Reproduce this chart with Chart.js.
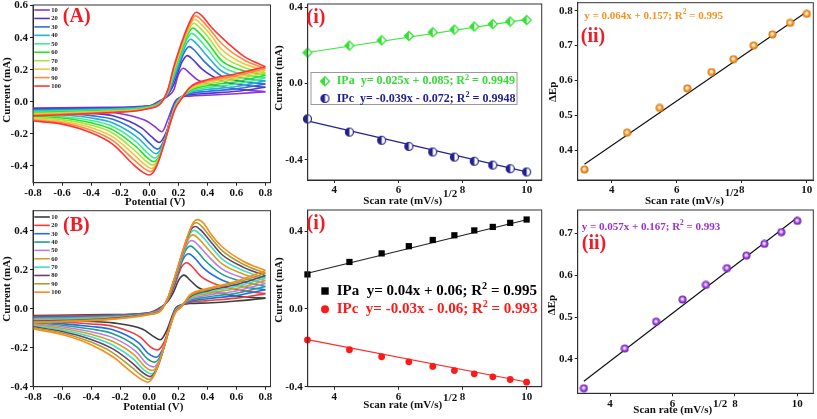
<!DOCTYPE html>
<html><head><meta charset="utf-8">
<script src="https://cdn.jsdelivr.net/npm/chart.js@4.4.0/dist/chart.umd.min.js"></script>
<style>
html,body{margin:0;padding:0;background:#fff;}
#wrap{position:relative;width:817px;height:419px;overflow:hidden;background:#fff;}
canvas{position:absolute;left:0;top:0;}
</style></head>
<body><div id="wrap">
<canvas id="cA" width="817" height="419"></canvas>
<canvas id="cAi" width="817" height="419"></canvas>
<canvas id="cAii" width="817" height="419"></canvas>
<canvas id="cB" width="817" height="419"></canvas>
<canvas id="cBi" width="817" height="419"></canvas>
<canvas id="cBii" width="817" height="419"></canvas>
</div>
<script>
// ---------------- DATA ----------------
const scanRates = [10,20,30,40,50,60,70,80,90,100];
const sqrtScanRate = [3.162,4.472,5.477,6.325,7.071,7.746,8.367,8.944,9.487,10.0];
const colorsA = ['#8a35d4','#5236cc','#2f6fd8','#25b0d8','#3bef8e','#22e322','#a3e63d','#f2c445','#ff8a3c','#ff3434'];
const colorsB = ['#3d3d3d','#ee3b3b','#1f6ee0','#1f9e8c','#b67fe6','#d4a021','#3de0c0','#6b3f6b','#a8a030','#ff8a1a'];
const cvTicksX = [-0.8,-0.6,-0.4,-0.2,0.0,0.2,0.4,0.6,0.8];
const cvTicksYA = [-0.4,-0.2,0.0,0.2,0.4,0.6];
const cvTicksYB = [-0.4,-0.2,0.0,0.2,0.4];
const srTicksX = [4,6,8,10];
const ipTicksY = [-0.4,0.0,0.4];
const dEpTicksYA = [0.4,0.5,0.6,0.7,0.8];
const dEpTicksYB = [0.4,0.5,0.6,0.7];

// ===== Panel A cyclic voltammograms (each row: one potential, columns = 10..100 mV/s) =====
// forward (anodic) scan
const cvA_fwdV = [-0.8,-0.3,0.0,0.08,0.13,0.17];
const cvA_fwdI = [
 [-0.040,-0.045,-0.050,-0.056,-0.062,-0.068,-0.073,-0.078,-0.083,-0.088],
 [-0.035,-0.039,-0.043,-0.047,-0.051,-0.055,-0.059,-0.063,-0.067,-0.070],
 [-0.025,-0.027,-0.029,-0.031,-0.033,-0.035,-0.037,-0.039,-0.041,-0.043],
 [0.010,0.006,0.003,0.001,-0.001,-0.003,-0.005,-0.007,-0.008,-0.010],
 [0.035,0.045,0.050,0.055,0.060,0.064,0.068,0.072,0.076,0.080],
 [0.075,0.110,0.135,0.155,0.170,0.182,0.193,0.203,0.212,0.220]];
const cvA_preAV = [0.201,0.227,0.240,0.250,0.258,0.265,0.272,0.278,0.284,0.290];
const cvA_preAI = [0.170,0.250,0.305,0.350,0.386,0.418,0.447,0.472,0.494,0.520];
const cvA_Epa   = [0.236,0.262,0.275,0.285,0.293,0.300,0.307,0.313,0.319,0.325];
const cvA_Ipa   = [0.209,0.288,0.344,0.390,0.427,0.460,0.490,0.515,0.537,0.559];
const cvA_postAV = [0.276,0.302,0.315,0.325,0.333,0.340,0.347,0.353,0.359,0.365];
const cvA_postAI = [0.180,0.262,0.318,0.363,0.400,0.433,0.463,0.488,0.511,0.535];
const cvA_post2AV = [0.336,0.362,0.375,0.385,0.393,0.400,0.407,0.413,0.419,0.425];
const cvA_post2AI = [0.135,0.205,0.255,0.300,0.338,0.372,0.403,0.430,0.450,0.468];
const cvA_tailV = [0.5,0.65];
const cvA_tailI = [
 [0.095,0.130,0.160,0.190,0.222,0.255,0.290,0.325,0.362,0.400],
 [0.075,0.103,0.125,0.148,0.170,0.193,0.215,0.238,0.262,0.285]];
const cvA_endI = [0.062,0.090,0.110,0.130,0.150,0.165,0.180,0.195,0.207,0.218];
// reverse (cathodic) scan
const cvA_revV = [0.6,0.4,0.28,0.22,0.18];
const cvA_revI = [
 [0.050,0.065,0.080,0.095,0.110,0.125,0.140,0.152,0.163,0.175],
 [0.040,0.052,0.064,0.076,0.088,0.100,0.110,0.120,0.129,0.137],
 [0.035,0.043,0.051,0.058,0.064,0.070,0.076,0.081,0.086,0.090],
 [0.028,0.030,0.030,0.029,0.028,0.026,0.024,0.021,0.018,0.015],
 [0.005,-0.005,-0.012,-0.018,-0.022,-0.026,-0.030,-0.034,-0.038,-0.042]];
const cvA_preCV = [0.133,0.115,0.103,0.093,0.085,0.077,0.069,0.061,0.053,0.045];
const cvA_preCI = [-0.100,-0.195,-0.240,-0.270,-0.300,-0.325,-0.348,-0.370,-0.392,-0.415];
const cvA_Epc   = [0.088,0.070,0.058,0.048,0.040,0.032,0.024,0.016,0.008,0.000];
const cvA_Ipc   = [-0.188,-0.254,-0.296,-0.325,-0.352,-0.375,-0.396,-0.417,-0.437,-0.458];
const cvA_postCV = [0.038,0.020,0.008,-0.002,-0.010,-0.018,-0.026,-0.034,-0.042,-0.050];
const cvA_postCI = [-0.155,-0.222,-0.264,-0.294,-0.322,-0.346,-0.368,-0.390,-0.412,-0.437];
const cvA_post2CV = [-0.032,-0.050,-0.062,-0.072,-0.080,-0.088,-0.096,-0.104,-0.112,-0.120];
const cvA_post2CI = [-0.115,-0.165,-0.200,-0.230,-0.258,-0.283,-0.308,-0.332,-0.357,-0.383];
const cvA_revTailV = [-0.25,-0.4,-0.6,-0.8];
const cvA_revTailI = [
 [-0.066,-0.088,-0.110,-0.133,-0.155,-0.176,-0.197,-0.220,-0.243,-0.266],
 [-0.057,-0.072,-0.087,-0.102,-0.117,-0.132,-0.147,-0.162,-0.178,-0.194],
 [-0.052,-0.062,-0.072,-0.082,-0.092,-0.102,-0.112,-0.122,-0.131,-0.140],
 [-0.050,-0.058,-0.066,-0.075,-0.083,-0.091,-0.099,-0.107,-0.114,-0.121]];

// ===== Panel B cyclic voltammograms =====
const cvB_fwdV = [-0.8,-0.3,0.0,0.08,0.13,0.17];
const cvB_fwdI = [
 [-0.035,-0.039,-0.043,-0.047,-0.051,-0.055,-0.059,-0.063,-0.067,-0.070],
 [-0.030,-0.033,-0.036,-0.039,-0.042,-0.045,-0.048,-0.051,-0.054,-0.057],
 [-0.020,-0.021,-0.022,-0.023,-0.024,-0.025,-0.026,-0.027,-0.028,-0.030],
 [0.008,0.005,0.002,0.000,-0.002,-0.004,-0.006,-0.008,-0.009,-0.010],
 [0.040,0.045,0.048,0.051,0.053,0.055,0.057,0.058,0.059,0.060],
 [0.090,0.110,0.120,0.127,0.133,0.138,0.142,0.145,0.148,0.150]];
const cvB_preAV = [0.205,0.223,0.237,0.249,0.259,0.268,0.276,0.283,0.290,0.298];
const cvB_preAI = [0.150,0.215,0.260,0.298,0.327,0.356,0.379,0.400,0.419,0.436];
const cvB_Epa   = [0.240,0.258,0.272,0.284,0.294,0.303,0.311,0.318,0.325,0.333];
const cvB_Ipa   = [0.173,0.237,0.283,0.322,0.351,0.380,0.403,0.423,0.442,0.458];
const cvB_postAV = [0.280,0.298,0.312,0.324,0.334,0.343,0.351,0.358,0.365,0.373];
const cvB_postAI = [0.148,0.215,0.262,0.300,0.330,0.358,0.382,0.402,0.421,0.440];
const cvB_post2AV = [0.340,0.358,0.372,0.384,0.394,0.403,0.411,0.418,0.425,0.433];
const cvB_post2AI = [0.108,0.165,0.210,0.248,0.280,0.308,0.332,0.350,0.365,0.375];
const cvB_tailV = [0.5,0.65];
const cvB_tailI = [
 [0.078,0.115,0.148,0.178,0.205,0.232,0.256,0.279,0.300,0.320],
 [0.062,0.092,0.115,0.138,0.158,0.178,0.196,0.213,0.228,0.243]];
const cvB_endI = [0.055,0.078,0.098,0.115,0.130,0.145,0.158,0.170,0.183,0.197];
const cvB_revV = [0.6,0.4,0.28,0.22,0.18];
const cvB_revI = [
 [0.040,0.055,0.068,0.080,0.092,0.104,0.115,0.125,0.134,0.142],
 [0.030,0.042,0.052,0.061,0.070,0.078,0.085,0.092,0.098,0.104],
 [0.027,0.033,0.038,0.044,0.049,0.054,0.058,0.062,0.066,0.072],
 [0.020,0.020,0.019,0.018,0.017,0.015,0.013,0.011,0.009,0.008],
 [0.002,-0.002,-0.005,-0.008,-0.010,-0.012,-0.014,-0.016,-0.018,-0.020]];
const cvB_preCV = [0.121,0.103,0.093,0.083,0.075,0.067,0.059,0.051,0.043,0.035];
const cvB_preCI = [-0.110,-0.170,-0.205,-0.232,-0.255,-0.275,-0.295,-0.310,-0.325,-0.340];
const cvB_Epc   = [0.076,0.058,0.048,0.038,0.030,0.022,0.014,0.006,-0.002,-0.010];
const cvB_Ipc   = [-0.159,-0.211,-0.249,-0.274,-0.298,-0.317,-0.334,-0.348,-0.363,-0.377];
const cvB_postCV = [0.026,0.008,-0.002,-0.012,-0.020,-0.028,-0.036,-0.044,-0.052,-0.060];
const cvB_postCI = [-0.140,-0.195,-0.232,-0.257,-0.280,-0.298,-0.314,-0.328,-0.343,-0.360];
const cvB_post2CV = [-0.044,-0.062,-0.072,-0.082,-0.090,-0.098,-0.106,-0.114,-0.122,-0.130];
const cvB_post2CI = [-0.105,-0.145,-0.175,-0.198,-0.220,-0.240,-0.260,-0.280,-0.300,-0.320];
const cvB_revTailV = [-0.25,-0.4,-0.6,-0.8];
const cvB_revTailI = [
 [-0.072,-0.090,-0.108,-0.128,-0.148,-0.168,-0.187,-0.206,-0.226,-0.246],
 [-0.065,-0.078,-0.091,-0.104,-0.118,-0.131,-0.144,-0.157,-0.171,-0.184],
 [-0.060,-0.068,-0.076,-0.084,-0.092,-0.100,-0.108,-0.116,-0.124,-0.132],
 [-0.057,-0.062,-0.067,-0.072,-0.077,-0.082,-0.087,-0.092,-0.097,-0.103]];

// ===== Peak currents vs sqrt(scan rate) =====
const IPa_A = [0.162,0.199,0.227,0.250,0.269,0.283,0.299,0.312,0.325,0.333];
const IPc_A = [-0.185,-0.254,-0.297,-0.329,-0.358,-0.385,-0.407,-0.427,-0.446,-0.463];
const fitX = [3.162,10.0];
const fitIPa_A = [0.163,0.336];
const fitIPc_A = [-0.195,-0.462];
const IPa_B = [0.177,0.241,0.285,0.322,0.354,0.378,0.403,0.421,0.442,0.459];
const IPc_B = [-0.160,-0.210,-0.246,-0.272,-0.296,-0.317,-0.334,-0.349,-0.363,-0.377];
const fitIPa_B = [0.183,0.458];
const fitIPc_B = [-0.158,-0.376];
// ===== Peak separation vs sqrt(scan rate) =====
const dEp_A = [0.344,0.450,0.521,0.577,0.624,0.661,0.700,0.732,0.765,0.791];
const fitdEp_A = [0.359,0.797];
const dEp_B = [0.330,0.425,0.489,0.542,0.577,0.617,0.647,0.675,0.703,0.730];
const fitdEp_B = [0.347,0.738];

// ---------------- HELPERS ----------------
const FONT = "'Liberation Serif','Times New Roman',serif";
const W = 817, H = 419, YW = 30, XH = 20;
const tickFont = {family: FONT, size: 11, weight: 'bold'};

function txt(ctx, s, x, y, size, color, align, rot){
  ctx.save(); ctx.font = `bold ${size}px ${FONT}`; ctx.fillStyle = color;
  ctx.textAlign = align || 'left'; ctx.textBaseline = 'middle';
  ctx.translate(x, y); if (rot) ctx.rotate(rot); ctx.fillText(s, 0, 0);
  const w = ctx.measureText(s).width; ctx.restore(); return w;
}
function rich(ctx, parts, x, y, size, color){
  let cx = x; ctx.save(); ctx.fillStyle = color; ctx.textBaseline = 'middle'; ctx.textAlign = 'left';
  parts.forEach((p, i) => {
    const sup = i % 2 === 1; const fs = sup ? size * 0.68 : size;
    ctx.font = `bold ${fs}px ${FONT}`;
    ctx.fillText(p, cx, sup ? y - size * 0.32 : y);
    cx += ctx.measureText(p).width;
  });
  ctx.restore();
}
function frame(chart){
  const a = chart.chartArea, ctx = chart.ctx;
  ctx.save(); ctx.strokeStyle = '#333'; ctx.lineWidth = 1;
  ctx.strokeRect(a.left, a.top, a.right - a.left, a.bottom - a.top); ctx.restore();
}
function cvLegend(ctx, colors, x0, y0, dy){
  colors.forEach((c, i) => {
    const y = y0 + dy * i;
    ctx.save(); ctx.strokeStyle = c; ctx.lineWidth = 1.6;
    ctx.beginPath(); ctx.moveTo(x0, y); ctx.lineTo(x0 + 15.5, y); ctx.stroke(); ctx.restore();
    txt(ctx, String(scanRates[i]), x0 + 17, y + 0.3, 6.5, '#222');
  });
}
function scanTitle(ctx, x, y, supY){
  const w = txt(ctx, 'Scan rate (mV/s)', x, y, 11, '#111');
  txt(ctx, '1/2', x + w + 1, supY, 11, '#111');
}
function halfDiamond(color, w){
  const s = Math.ceil(w + 3), c = document.createElement('canvas'); c.width = c.height = s;
  const g = c.getContext('2d'), m = s / 2, r = w / 2;
  const path = () => { g.beginPath(); g.moveTo(m, m - r); g.lineTo(m + r, m); g.lineTo(m, m + r); g.lineTo(m - r, m); g.closePath(); };
  path(); g.fillStyle = '#fff'; g.fill();
  g.save(); path(); g.clip(); g.fillStyle = color; g.fillRect(0, 0, m, s); g.restore();
  path(); g.strokeStyle = color; g.lineWidth = 1.3; g.stroke(); return c;
}
function halfCircle(color, d){
  const s = Math.ceil(d + 3), c = document.createElement('canvas'); c.width = c.height = s;
  const g = c.getContext('2d'), m = s / 2, r = d / 2;
  g.beginPath(); g.arc(m, m, r, 0, Math.PI * 2); g.fillStyle = '#fff'; g.fill();
  g.beginPath(); g.arc(m, m, r, Math.PI / 2, Math.PI * 1.5); g.closePath(); g.fillStyle = color; g.fill();
  g.beginPath(); g.arc(m, m, r, 0, Math.PI * 2); g.strokeStyle = color; g.lineWidth = 1.2; g.stroke(); return c;
}
function ball(stops, d){
  const s = Math.ceil(d + 1), c = document.createElement('canvas'); c.width = c.height = s;
  const g = c.getContext('2d'), m = s / 2, r = d / 2;
  const grd = g.createRadialGradient(m - r * 0.1, m - r * 0.15, 0, m, m, r);
  stops.forEach(st => grd.addColorStop(st[0], st[1]));
  g.beginPath(); g.arc(m, m, r, 0, Math.PI * 2); g.fillStyle = grd; g.fill(); return c;
}
const mkDiamond = halfDiamond('#35e035', 9);
const mkHalfCirc = halfCircle('#22228f', 8);
const mkOrange = ball([[0,'#ffffff'],[0.3,'#fde1c2'],[0.62,'#f7931e'],[1,'#d46d08']], 8);
const mkPurple = ball([[0,'#ffffff'],[0.3,'#dcc0f7'],[0.62,'#9a3ee0'],[1,'#6a1fae']], 8);

// segs: ['rows', potentials, rows] or ['pt', perCurvePotential, perCurveCurrent]
function branch(segs, k){
  const out = [];
  segs.forEach(s => {
    if (s[0] === 'rows') s[1].forEach((v, j) => out.push({x: v, y: s[2][j][k]}));
    else out.push({x: s[1][k], y: s[2][k]});
  });
  return out.sort((a, b) => a.x - b.x);
}
function cvDatasets(fwdSegs, revSegs, colors){
  const ds = [];
  for (let k = 0; k < 10; k++){
    [branch(fwdSegs, k), branch(revSegs, k)].forEach(d => ds.push({data: d, borderColor: colors[k],
      borderWidth: 1.6, pointRadius: 0, fill: false, cubicInterpolationMode: 'monotone', order: 10 - k}));
  }
  return ds;
}
function pts(xs, ys){ return xs.map((x, i) => ({x: x, y: ys[i]})); }
function scatterDs(ys, style, order){
  return {data: pts(sqrtScanRate, ys), showLine: false, pointStyle: style.img || style.shape,
    pointRadius: style.r, pointBackgroundColor: style.color, pointBorderColor: style.color, pointBorderWidth: 0,
    clip: false, order: order};
}
function lineDs(xs, ys, color, order){
  return {data: pts(xs, ys), borderColor: color, borderWidth: 1.2, pointRadius: 0, fill: false, order: order};
}

function mk(id, rect, xs, ys, datasets, decor){
  return new Chart(document.getElementById(id), {
    type: 'line',
    data: {datasets: datasets},
    options: {
      responsive: false, animation: false, devicePixelRatio: 1,
      layout: {autoPadding: false, padding: {left: rect.L - YW, top: rect.T, right: W - rect.R, bottom: H - rect.B - XH}},
      plugins: {legend: {display: false}, tooltip: {enabled: false}},
      elements: {line: {tension: 0}},
      scales: {
        x: {type: 'linear', min: xs.min, max: xs.max,
          afterBuildTicks: s => { s.ticks = xs.ticks.map(v => ({value: v})); },
          afterFit: s => { s.height = XH; s.paddingLeft = 0; s.paddingRight = 0; },
          ticks: {callback: xs.fmt, font: tickFont, color: '#111', padding: 1, maxRotation: 0, autoSkip: false},
          grid: {drawOnChartArea: false, drawTicks: true, tickLength: 3, color: '#222'},
          border: {display: true, color: '#222', width: 1}},
        y: {type: 'linear', min: ys.min, max: ys.max,
          afterBuildTicks: s => { s.ticks = ys.ticks.map(v => ({value: v})); },
          afterFit: s => { s.width = YW; s.paddingTop = 0; s.paddingBottom = 0; },
          ticks: {callback: ys.fmt, font: tickFont, color: '#111', padding: 2, autoSkip: false},
          grid: {drawOnChartArea: false, drawTicks: true, tickLength: 3, color: '#222'},
          border: {display: true, color: '#222', width: 1}}
      }
    },
    plugins: [{id: 'decor_' + id, afterDraw: chart => { frame(chart); decor(chart.ctx, chart); }}]
  });
}
const f1 = v => Number(v).toFixed(1);
const f0 = v => String(v);
const RED = '#ee1c24';

// ---------------- PANEL A ----------------
mk('cA', {L: 33, T: 5, R: 270.5, B: 182.7},
  {min: -0.8, max: 0.835, ticks: cvTicksX, fmt: f1},
  {min: -0.506, max: 0.604, ticks: cvTicksYA, fmt: f1},
  cvDatasets(
    [['rows', cvA_fwdV, cvA_fwdI], ['pt', cvA_preAV, cvA_preAI], ['pt', cvA_Epa, cvA_Ipa],
     ['pt', cvA_postAV, cvA_postAI], ['pt', cvA_post2AV, cvA_post2AI], ['rows', cvA_tailV, cvA_tailI],
     ['rows', [0.8], [cvA_endI]]],
    [['rows', [0.8], [cvA_endI]], ['rows', cvA_revV, cvA_revI], ['pt', cvA_preCV, cvA_preCI],
     ['pt', cvA_Epc, cvA_Ipc], ['pt', cvA_postCV, cvA_postCI], ['pt', cvA_post2CV, cvA_post2CI],
     ['rows', cvA_revTailV, cvA_revTailI]], colorsA),
  (ctx) => {
    txt(ctx, 'Current (mA)', 7.5, 90, 11, '#111', 'center', -Math.PI / 2);
    txt(ctx, 'Potential (V)', 155, 201.7, 11, '#111', 'center');
    txt(ctx, '(A)', 76.7, 17, 20, RED, 'center');
    cvLegend(ctx, colorsA, 34.3, 10, 8.45);
  });

// ---------------- PANEL A (i) ----------------
mk('cAi', {L: 307.7, T: 4, R: 541.7, B: 180},
  {min: 3.17, max: 10.47, ticks: srTicksX, fmt: f0},
  {min: -0.505, max: 0.417, ticks: ipTicksY, fmt: f1},
  [lineDs(fitX, fitIPa_A, '#3ee83e', 5), lineDs(fitX, fitIPc_A, '#23238f', 6),
   scatterDs(IPa_A, {img: mkDiamond, r: 5}, 1), scatterDs(IPc_A, {img: mkHalfCirc, r: 5}, 2)],
  (ctx) => {
    txt(ctx, 'Current (mA)', 279, 78, 11, '#111', 'center', -Math.PI / 2);
    scanTitle(ctx, 363.3, 200.7, 194);
    txt(ctx, '(i)', 316, 18, 20, RED, 'center');
    ctx.save(); ctx.fillStyle = '#fff'; ctx.fillRect(311, 72.5, 206, 32);
    ctx.strokeStyle = '#999'; ctx.lineWidth = 1; ctx.strokeRect(311, 72.5, 206, 32); ctx.restore();
    ctx.drawImage(mkDiamond, 325 - mkDiamond.width / 2, 81.3 - mkDiamond.height / 2);
    ctx.drawImage(mkHalfCirc, 325 - mkHalfCirc.width / 2, 98.5 - mkHalfCirc.height / 2);
    rich(ctx, ['IPa  y= 0.025x + 0.085; R', '2', ' = 0.9949'], 336.7, 81.3, 12, '#33dd33');
    rich(ctx, ['IPc  y= -0.039x - 0.072; R', '2', ' = 0.9948'], 336.7, 98.5, 12, '#1f1f8f');
  });

// ---------------- PANEL A (ii) ----------------
mk('cAii', {L: 577.7, T: 2.7, R: 813.3, B: 180},
  {min: 2.954, max: 10.2, ticks: srTicksX, fmt: f0},
  {min: 0.314, max: 0.823, ticks: dEpTicksYA, fmt: f1},
  [lineDs(fitX, fitdEp_A, '#111', 5), scatterDs(dEp_A, {img: mkOrange, r: 4}, 1)],
  (ctx) => {
    txt(ctx, '\u0394Ep', 553, 91.7, 11, '#111', 'center', -Math.PI / 2);
    scanTitle(ctx, 645, 201, 193.3);
    txt(ctx, '(ii)', 593, 36.5, 20, RED, 'center');
    rich(ctx, ['y = 0.064x + 0.157; R', '2', ' = 0.995'], 584.3, 16, 11, '#f39322');
  });

// ---------------- PANEL B ----------------
mk('cB', {L: 33, T: 210.7, R: 270.5, B: 386.7},
  {min: -0.8, max: 0.835, ticks: cvTicksX, fmt: f1},
  {min: -0.4, max: 0.504, ticks: cvTicksYB, fmt: f1},
  cvDatasets(
    [['rows', cvB_fwdV, cvB_fwdI], ['pt', cvB_preAV, cvB_preAI], ['pt', cvB_Epa, cvB_Ipa],
     ['pt', cvB_postAV, cvB_postAI], ['pt', cvB_post2AV, cvB_post2AI], ['rows', cvB_tailV, cvB_tailI],
     ['rows', [0.8], [cvB_endI]]],
    [['rows', [0.8], [cvB_endI]], ['rows', cvB_revV, cvB_revI], ['pt', cvB_preCV, cvB_preCI],
     ['pt', cvB_Epc, cvB_Ipc], ['pt', cvB_postCV, cvB_postCI], ['pt', cvB_post2CV, cvB_post2CI],
     ['rows', cvB_revTailV, cvB_revTailI]], colorsB),
  (ctx) => {
    txt(ctx, 'Current (mA)', 7.5, 289, 11, '#111', 'center', -Math.PI / 2);
    txt(ctx, 'Potential (V)', 153.3, 406.7, 11, '#111', 'center');
    txt(ctx, '(B)', 76.3, 226, 20, RED, 'center');
    cvLegend(ctx, colorsB, 34.3, 217, 8.35);
  });

// ---------------- PANEL B (i) ----------------
mk('cBi', {L: 307.7, T: 210, R: 541.7, B: 386.7},
  {min: 3.17, max: 10.47, ticks: srTicksX, fmt: f0},
  {min: -0.4, max: 0.508, ticks: ipTicksY, fmt: f1},
  [lineDs(fitX, fitIPa_B, '#222', 5), lineDs(fitX, fitIPc_B, '#ff2a2a', 6),
   scatterDs(IPa_B, {shape: 'rect', r: 4.4, color: '#000'}, 1), scatterDs(IPc_B, {shape: 'circle', r: 3.4, color: '#ff1a1a'}, 2)],
  (ctx) => {
    txt(ctx, 'Current (mA)', 279, 290, 11, '#111', 'center', -Math.PI / 2);
    scanTitle(ctx, 363.3, 405, 398.3);
    txt(ctx, '(i)', 316, 224, 20, RED, 'center');
    ctx.save(); ctx.fillStyle = '#000'; ctx.fillRect(321.3, 287.3, 7.4, 7.4);
    ctx.fillStyle = '#ff1a1a'; ctx.beginPath(); ctx.arc(325, 309.3, 4, 0, Math.PI * 2); ctx.fill(); ctx.restore();
    rich(ctx, ['IPa  y= 0.04x + 0.06; R', '2', ' = 0.995'], 336.7, 291, 15, '#000');
    rich(ctx, ['IPc  y= -0.03x - 0.06; R', '2', ' = 0.993'], 336.7, 309.3, 15, '#ff1a1a');
  });

// ---------------- PANEL B (ii) ----------------
mk('cBii', {L: 577.7, T: 210, R: 813.3, B: 393.3},
  {min: 2.965, max: 10.51, ticks: srTicksX, fmt: f0},
  {min: 0.318, max: 0.756, ticks: dEpTicksYB, fmt: f1},
  [lineDs(fitX, fitdEp_B, '#111', 5), scatterDs(dEp_B, {img: mkPurple, r: 4}, 1)],
  (ctx) => {
    txt(ctx, '\u0394Ep', 551.7, 305, 11, '#111', 'center', -Math.PI / 2);
    scanTitle(ctx, 633.3, 410, 404);
    txt(ctx, '(ii)', 594, 244, 20, RED, 'center');
    rich(ctx, ['y = 0.057x + 0.167; R', '2', ' = 0.993'], 581.7, 226.7, 11, '#9b30d9');
  });
</script>
</body></html>
